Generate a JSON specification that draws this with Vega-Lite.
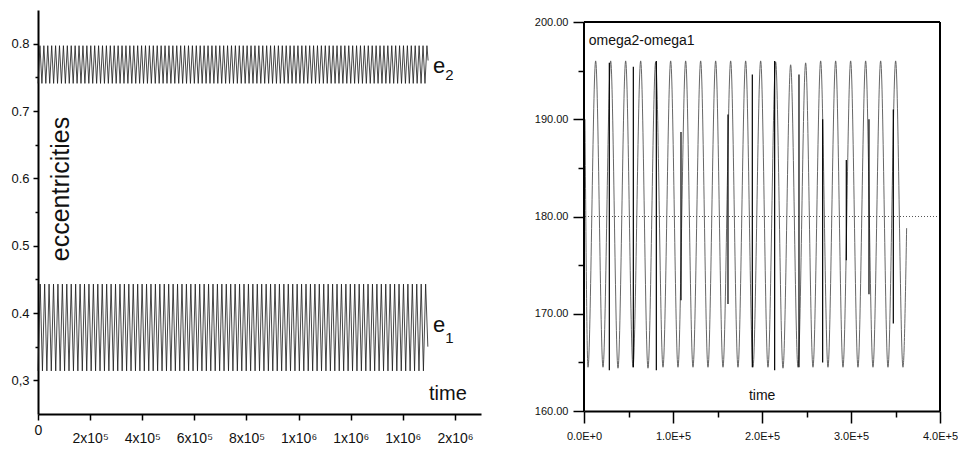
{
  "$schema": "https://vega.github.io/schema/vega-lite/v6.json",
  "padding": {"left": 10, "top": 10, "right": 0, "bottom": 0},
  "background": "white",
  "spacing": 53,
  "config": {
    "view": {"stroke": null},
    "font": "Liberation Sans",
    "axis": {"grid": false, "domainColor": "#000", "domainWidth": 2, "tickColor": "#000", "tickWidth": 1.5, "labelColor": "#111", "labelOverlap": false, "labelBound": false, "labelFlush": false}
  },
  "datasets": {
    "e2": [
      {"t":0,"v":0.741},{"t":7500,"v":0.797},{"t":15000,"v":0.741},{"t":22500,"v":0.797},{"t":30000,"v":0.741},{"t":37500,"v":0.797},{"t":45000,"v":0.741},{"t":52500,"v":0.797},{"t":60000,"v":0.741},{"t":67500,"v":0.797},
      {"t":75000,"v":0.741},{"t":82500,"v":0.797},{"t":90000,"v":0.741},{"t":97500,"v":0.797},{"t":105000,"v":0.741},{"t":112500,"v":0.797},{"t":120000,"v":0.741},{"t":127500,"v":0.797},{"t":135000,"v":0.741},{"t":142500,"v":0.797},
      {"t":150000,"v":0.741},{"t":157500,"v":0.797},{"t":165000,"v":0.741},{"t":172500,"v":0.797},{"t":180000,"v":0.741},{"t":187500,"v":0.797},{"t":195000,"v":0.741},{"t":202500,"v":0.797},{"t":210000,"v":0.741},{"t":217500,"v":0.797},
      {"t":225000,"v":0.741},{"t":232500,"v":0.797},{"t":240000,"v":0.741},{"t":247500,"v":0.797},{"t":255000,"v":0.741},{"t":262500,"v":0.797},{"t":270000,"v":0.741},{"t":277500,"v":0.797},{"t":285000,"v":0.741},{"t":292500,"v":0.797},
      {"t":300000,"v":0.741},{"t":307500,"v":0.797},{"t":315000,"v":0.741},{"t":322500,"v":0.797},{"t":330000,"v":0.741},{"t":337500,"v":0.797},{"t":345000,"v":0.741},{"t":352500,"v":0.797},{"t":360000,"v":0.741},{"t":367500,"v":0.797},
      {"t":375000,"v":0.741},{"t":382500,"v":0.797},{"t":390000,"v":0.741},{"t":397500,"v":0.797},{"t":405000,"v":0.741},{"t":412500,"v":0.797},{"t":420000,"v":0.741},{"t":427500,"v":0.797},{"t":435000,"v":0.741},{"t":442500,"v":0.797},
      {"t":450000,"v":0.741},{"t":457500,"v":0.797},{"t":465000,"v":0.741},{"t":472500,"v":0.797},{"t":480000,"v":0.741},{"t":487500,"v":0.797},{"t":495000,"v":0.741},{"t":502500,"v":0.797},{"t":510000,"v":0.741},{"t":517500,"v":0.797},
      {"t":525000,"v":0.741},{"t":532500,"v":0.797},{"t":540000,"v":0.741},{"t":547500,"v":0.797},{"t":555000,"v":0.741},{"t":562500,"v":0.797},{"t":570000,"v":0.741},{"t":577500,"v":0.797},{"t":585000,"v":0.741},{"t":592500,"v":0.797},
      {"t":600000,"v":0.741},{"t":607500,"v":0.797},{"t":615000,"v":0.741},{"t":622500,"v":0.797},{"t":630000,"v":0.741},{"t":637500,"v":0.797},{"t":645000,"v":0.741},{"t":652500,"v":0.797},{"t":660000,"v":0.741},{"t":667500,"v":0.797},
      {"t":675000,"v":0.741},{"t":682500,"v":0.797},{"t":690000,"v":0.741},{"t":697500,"v":0.797},{"t":705000,"v":0.741},{"t":712500,"v":0.797},{"t":720000,"v":0.741},{"t":727500,"v":0.797},{"t":735000,"v":0.741},{"t":742500,"v":0.797},
      {"t":750000,"v":0.741},{"t":757500,"v":0.797},{"t":765000,"v":0.741},{"t":772500,"v":0.797},{"t":780000,"v":0.741},{"t":787500,"v":0.797},{"t":795000,"v":0.741},{"t":802500,"v":0.797},{"t":810000,"v":0.741},{"t":817500,"v":0.797},
      {"t":825000,"v":0.741},{"t":832500,"v":0.797},{"t":840000,"v":0.741},{"t":847500,"v":0.797},{"t":855000,"v":0.741},{"t":862500,"v":0.797},{"t":870000,"v":0.741},{"t":877500,"v":0.797},{"t":885000,"v":0.741},{"t":892500,"v":0.797},
      {"t":900000,"v":0.741},{"t":907500,"v":0.797},{"t":915000,"v":0.741},{"t":922500,"v":0.797},{"t":930000,"v":0.741},{"t":937500,"v":0.797},{"t":945000,"v":0.741},{"t":952500,"v":0.797},{"t":960000,"v":0.741},{"t":967500,"v":0.797},
      {"t":975000,"v":0.741},{"t":982500,"v":0.797},{"t":990000,"v":0.741},{"t":997500,"v":0.797},{"t":1005000,"v":0.741},{"t":1012500,"v":0.797},{"t":1020000,"v":0.741},{"t":1027500,"v":0.797},{"t":1035000,"v":0.741},{"t":1042500,"v":0.797},
      {"t":1050000,"v":0.741},{"t":1057500,"v":0.797},{"t":1065000,"v":0.741},{"t":1072500,"v":0.797},{"t":1080000,"v":0.741},{"t":1087500,"v":0.797},{"t":1095000,"v":0.741},{"t":1102500,"v":0.797},{"t":1110000,"v":0.741},{"t":1117500,"v":0.797},
      {"t":1125000,"v":0.741},{"t":1132500,"v":0.797},{"t":1140000,"v":0.741},{"t":1147500,"v":0.797},{"t":1155000,"v":0.741},{"t":1162500,"v":0.797},{"t":1170000,"v":0.741},{"t":1177500,"v":0.797},{"t":1185000,"v":0.741},{"t":1192500,"v":0.797},
      {"t":1200000,"v":0.741},{"t":1207500,"v":0.797},{"t":1215000,"v":0.741},{"t":1222500,"v":0.797},{"t":1230000,"v":0.741},{"t":1237500,"v":0.797},{"t":1245000,"v":0.741},{"t":1252500,"v":0.797},{"t":1260000,"v":0.741},{"t":1267500,"v":0.797},
      {"t":1275000,"v":0.741},{"t":1282500,"v":0.797},{"t":1290000,"v":0.741},{"t":1297500,"v":0.797},{"t":1305000,"v":0.741},{"t":1312500,"v":0.797},{"t":1320000,"v":0.741},{"t":1327500,"v":0.797},{"t":1335000,"v":0.741},{"t":1342500,"v":0.797},
      {"t":1350000,"v":0.741},{"t":1357500,"v":0.797},{"t":1365000,"v":0.741},{"t":1372500,"v":0.797},{"t":1380000,"v":0.741},{"t":1387500,"v":0.797},{"t":1395000,"v":0.741},{"t":1402500,"v":0.797},{"t":1410000,"v":0.741},{"t":1417500,"v":0.797},
      {"t":1425000,"v":0.741},{"t":1432500,"v":0.797},{"t":1440000,"v":0.741},{"t":1447500,"v":0.797},{"t":1455000,"v":0.741},{"t":1462500,"v":0.797},{"t":1470000,"v":0.741},{"t":1477500,"v":0.797},{"t":1485000,"v":0.741},{"t":1492500,"v":0.797},
      {"t":1497000,"v":0.775}
    ],
    "e1": [
      {"t":0,"v":0.314},{"t":8500,"v":0.443},{"t":17000,"v":0.314},{"t":25500,"v":0.443},{"t":34000,"v":0.314},{"t":42500,"v":0.443},{"t":51000,"v":0.314},{"t":59500,"v":0.443},{"t":68000,"v":0.314},{"t":76500,"v":0.443},
      {"t":85000,"v":0.314},{"t":93500,"v":0.443},{"t":102000,"v":0.314},{"t":110500,"v":0.443},{"t":119000,"v":0.314},{"t":127500,"v":0.443},{"t":136000,"v":0.314},{"t":144500,"v":0.443},{"t":153000,"v":0.314},{"t":161500,"v":0.443},
      {"t":170000,"v":0.314},{"t":178500,"v":0.443},{"t":187000,"v":0.314},{"t":195500,"v":0.443},{"t":204000,"v":0.314},{"t":212500,"v":0.443},{"t":221000,"v":0.314},{"t":229500,"v":0.443},{"t":238000,"v":0.314},{"t":246500,"v":0.443},
      {"t":255000,"v":0.314},{"t":263500,"v":0.443},{"t":272000,"v":0.314},{"t":280500,"v":0.443},{"t":289000,"v":0.314},{"t":297500,"v":0.443},{"t":306000,"v":0.314},{"t":314500,"v":0.443},{"t":323000,"v":0.314},{"t":331500,"v":0.443},
      {"t":340000,"v":0.314},{"t":348500,"v":0.443},{"t":357000,"v":0.314},{"t":365500,"v":0.443},{"t":374000,"v":0.314},{"t":382500,"v":0.443},{"t":391000,"v":0.314},{"t":399500,"v":0.443},{"t":408000,"v":0.314},{"t":416500,"v":0.443},
      {"t":425000,"v":0.314},{"t":433500,"v":0.443},{"t":442000,"v":0.314},{"t":450500,"v":0.443},{"t":459000,"v":0.314},{"t":467500,"v":0.443},{"t":476000,"v":0.314},{"t":484500,"v":0.443},{"t":493000,"v":0.314},{"t":501500,"v":0.443},
      {"t":510000,"v":0.314},{"t":518500,"v":0.443},{"t":527000,"v":0.314},{"t":535500,"v":0.443},{"t":544000,"v":0.314},{"t":552500,"v":0.443},{"t":561000,"v":0.314},{"t":569500,"v":0.443},{"t":578000,"v":0.314},{"t":586500,"v":0.443},
      {"t":595000,"v":0.314},{"t":603500,"v":0.443},{"t":612000,"v":0.314},{"t":620500,"v":0.443},{"t":629000,"v":0.314},{"t":637500,"v":0.443},{"t":646000,"v":0.314},{"t":654500,"v":0.443},{"t":663000,"v":0.314},{"t":671500,"v":0.443},
      {"t":680000,"v":0.314},{"t":688500,"v":0.443},{"t":697000,"v":0.314},{"t":705500,"v":0.443},{"t":714000,"v":0.314},{"t":722500,"v":0.443},{"t":731000,"v":0.314},{"t":739500,"v":0.443},{"t":748000,"v":0.314},{"t":756500,"v":0.443},
      {"t":765000,"v":0.314},{"t":773500,"v":0.443},{"t":782000,"v":0.314},{"t":790500,"v":0.443},{"t":799000,"v":0.314},{"t":807500,"v":0.443},{"t":816000,"v":0.314},{"t":824500,"v":0.443},{"t":833000,"v":0.314},{"t":841500,"v":0.443},
      {"t":850000,"v":0.314},{"t":858500,"v":0.443},{"t":867000,"v":0.314},{"t":875500,"v":0.443},{"t":884000,"v":0.314},{"t":892500,"v":0.443},{"t":901000,"v":0.314},{"t":909500,"v":0.443},{"t":918000,"v":0.314},{"t":926500,"v":0.443},
      {"t":935000,"v":0.314},{"t":943500,"v":0.443},{"t":952000,"v":0.314},{"t":960500,"v":0.443},{"t":969000,"v":0.314},{"t":977500,"v":0.443},{"t":986000,"v":0.314},{"t":994500,"v":0.443},{"t":1003000,"v":0.314},{"t":1011500,"v":0.443},
      {"t":1020000,"v":0.314},{"t":1028500,"v":0.443},{"t":1037000,"v":0.314},{"t":1045500,"v":0.443},{"t":1054000,"v":0.314},{"t":1062500,"v":0.443},{"t":1071000,"v":0.314},{"t":1079500,"v":0.443},{"t":1088000,"v":0.314},{"t":1096500,"v":0.443},
      {"t":1105000,"v":0.314},{"t":1113500,"v":0.443},{"t":1122000,"v":0.314},{"t":1130500,"v":0.443},{"t":1139000,"v":0.314},{"t":1147500,"v":0.443},{"t":1156000,"v":0.314},{"t":1164500,"v":0.443},{"t":1173000,"v":0.314},{"t":1181500,"v":0.443},
      {"t":1190000,"v":0.314},{"t":1198500,"v":0.443},{"t":1207000,"v":0.314},{"t":1215500,"v":0.443},{"t":1224000,"v":0.314},{"t":1232500,"v":0.443},{"t":1241000,"v":0.314},{"t":1249500,"v":0.443},{"t":1258000,"v":0.314},{"t":1266500,"v":0.443},
      {"t":1275000,"v":0.314},{"t":1283500,"v":0.443},{"t":1292000,"v":0.314},{"t":1300500,"v":0.443},{"t":1309000,"v":0.314},{"t":1317500,"v":0.443},{"t":1326000,"v":0.314},{"t":1334500,"v":0.443},{"t":1343000,"v":0.314},{"t":1351500,"v":0.443},
      {"t":1360000,"v":0.314},{"t":1368500,"v":0.443},{"t":1377000,"v":0.314},{"t":1385500,"v":0.443},{"t":1394000,"v":0.314},{"t":1402500,"v":0.443},{"t":1411000,"v":0.314},{"t":1419500,"v":0.443},{"t":1428000,"v":0.314},{"t":1436500,"v":0.443},
      {"t":1445000,"v":0.314},{"t":1453500,"v":0.443},{"t":1462000,"v":0.314},{"t":1470500,"v":0.443},{"t":1479000,"v":0.314},{"t":1487500,"v":0.443},{"t":1496000,"v":0.35}
    ],
    "om": [
      {"t":1100,"v":190},{"t":4500,"v":164.5},{"t":13100,"v":196},{"t":21350,"v":164.5},{"t":29960,"v":196},{"t":38200,"v":164.4},{"t":46810,"v":196},{"t":55050,"v":164.5},
      {"t":63670,"v":196},{"t":71900,"v":164.4},{"t":80520,"v":195.9},{"t":88760,"v":164.5},{"t":97370,"v":196},{"t":105610,"v":164.5},{"t":114220,"v":196},{"t":122460,"v":164.5},
      {"t":131080,"v":196},{"t":139310,"v":164.5},{"t":147930,"v":196},{"t":156170,"v":164.5},{"t":164780,"v":196},{"t":173020,"v":164.5},{"t":181630,"v":196},{"t":189870,"v":164.5},
      {"t":198490,"v":196},{"t":206720,"v":164.5},{"t":215340,"v":195.9},{"t":223580,"v":164.4},{"t":232190,"v":195.6},{"t":240430,"v":164.5},{"t":249040,"v":195.8},{"t":257280,"v":164.5},
      {"t":265900,"v":196},{"t":274130,"v":164.5},{"t":282750,"v":196},{"t":290990,"v":164.5},{"t":299600,"v":196},{"t":307840,"v":164.5},{"t":316450,"v":196},{"t":324690,"v":164.5},
      {"t":333310,"v":196},{"t":341540,"v":164.5},{"t":350160,"v":196},{"t":358400,"v":164.5},{"t":362500,"v":178.8}
    ],
    "spikes": [
      {"t":28460,"top":195.8,"bot":164.2},{"t":55430,"top":195.4,"bot":164.5},{"t":81270,"top":196,"bot":164.2},{"t":108980,"top":188.7,"bot":171.4},
      {"t":161780,"top":190.5,"bot":171},{"t":189120,"top":194.6,"bot":164.5},{"t":214210,"top":196,"bot":164.2},{"t":241550,"top":194.6,"bot":164.5},
      {"t":268150,"top":190,"bot":165},{"t":294730,"top":185.8,"bot":175.5},{"t":320200,"top":190,"bot":172},{"t":347540,"top":191,"bot":169}
    ]
  },
  "hconcat": [
    {
      "width": 443,
      "height": 404,
      "layer": [
        {
          "data": {"name": "e2"},
          "mark": {"type": "line", "color": "#1a1a1a", "strokeWidth": 0.8},
          "encoding": {
            "x": {"field": "t", "type": "quantitative", "scale": {"domain": [0, 1700000], "nice": false, "zero": false},
              "axis": {"title": null, "values": [0,100000,200000,300000,400000,500000,600000,700000,800000,900000,1000000,1100000,1200000,1300000,1400000,1500000,1600000],
                "labelExpr": "datum.value % 200000 !== 0 ? '' : datum.value === 0 ? '0' : datum.value < 1000000 ? (datum.value/100000) + 'x10⁵' : datum.value < 1500000 ? '1x10⁶' : '2x10⁶'",
                "tickSize": {"condition": {"test": "datum.value % 200000 === 0", "value": 6}, "value": 4},
                "labelPadding": {"condition": {"test": "datum.value === 0", "value": 3}, "value": 11},
                "labelFontSize": 14}},
            "y": {"field": "v", "type": "quantitative", "scale": {"domain": [0.25, 0.85], "nice": false, "zero": false},
              "axis": {"title": null, "values": [0.3,0.35,0.4,0.45,0.5,0.55,0.6,0.65,0.7,0.75,0.8],
                "labelExpr": "round(datum.value*100) % 10 !== 0 ? '' : round(datum.value*10) === 3 ? '0,3' : format(datum.value, '.1f')",
                "tickSize": {"condition": {"test": "round(datum.value*100) % 10 === 0", "value": 5}, "value": 3},
                "labelPadding": 4, "labelFontSize": 13}}
          }
        },
        {
          "data": {"name": "e1"},
          "mark": {"type": "line", "color": "#1a1a1a", "strokeWidth": 0.8},
          "encoding": {
            "x": {"field": "t", "type": "quantitative"},
            "y": {"field": "v", "type": "quantitative"}
          }
        },
        {
          "data": {"values": [{"t": 1515800, "v": 0.7564, "s": "e"}, {"t": 1515800, "v": 0.3718, "s": "e"}]},
          "mark": {"type": "text", "align": "left", "baseline": "alphabetic", "fontSize": 22, "color": "#111"},
          "encoding": {"x": {"field": "t", "type": "quantitative"}, "y": {"field": "v", "type": "quantitative"}, "text": {"field": "s"}}
        },
        {
          "data": {"values": [{"t": 1563000, "v": 0.746, "s": "2"}, {"t": 1563000, "v": 0.3555, "s": "1"}]},
          "mark": {"type": "text", "align": "left", "baseline": "alphabetic", "fontSize": 15, "color": "#111"},
          "encoding": {"x": {"field": "t", "type": "quantitative"}, "y": {"field": "v", "type": "quantitative"}, "text": {"field": "s"}}
        },
        {
          "data": {"values": [{"t": 1500460, "v": 0.2708, "s": "time"}]},
          "mark": {"type": "text", "align": "left", "baseline": "alphabetic", "fontSize": 20, "color": "#111"},
          "encoding": {"x": {"field": "t", "type": "quantitative"}, "y": {"field": "v", "type": "quantitative"}, "text": {"field": "s"}}
        },
        {
          "data": {"values": [{"t": 118960, "v": 0.5842, "s": "eccentricities"}]},
          "mark": {"type": "text", "align": "center", "baseline": "alphabetic", "angle": 270, "fontSize": 25, "color": "#111"},
          "encoding": {"x": {"field": "t", "type": "quantitative"}, "y": {"field": "v", "type": "quantitative"}, "text": {"field": "s"}}
        }
      ]
    },
    {
      "width": 356,
      "height": 401,
      "layer": [
        {
          "data": {"values": [{"y": 180}]},
          "mark": {"type": "rule", "color": "#555", "strokeDash": [1, 2], "strokeWidth": 1},
          "encoding": {"y": {"field": "y", "type": "quantitative"}}
        },
        {
          "data": {"name": "om"},
          "mark": {"type": "line", "color": "#555", "strokeWidth": 0.9, "interpolate": "monotone"},
          "encoding": {
            "x": {"field": "t", "type": "quantitative", "scale": {"domain": [0, 400000], "nice": false, "zero": false},
              "axis": {"title": null, "values": [0,50000,100000,150000,200000,250000,300000,350000,400000],
                "labelExpr": "datum.value % 100000 !== 0 ? '' : datum.value === 0 ? '0.0E+0' : format(datum.value/100000, '.1f') + 'E+5'",
                "tickSize": {"condition": {"test": "datum.value % 100000 === 0", "value": 12}, "value": 6},
                "labelPadding": 7, "labelFontSize": 11}},
            "y": {"field": "v", "type": "quantitative", "scale": {"domain": [160, 201.234], "nice": false, "zero": false},
              "axis": {"title": null, "domain": false, "values": [160,165,170,175,180,185,190,195,200],
                "labelExpr": "datum.value % 10 !== 0 ? '' : format(datum.value, '.2f')",
                "tickSize": {"condition": {"test": "datum.value % 10 === 0", "value": 11}, "value": 6},
                "labelPadding": 5, "labelFontSize": 11}}
          }
        },
        {
          "data": {"name": "spikes"},
          "mark": {"type": "rule", "color": "#000", "strokeWidth": 1.2},
          "encoding": {
            "x": {"field": "t", "type": "quantitative"},
            "y": {"field": "top", "type": "quantitative"},
            "y2": {"field": "bot"}
          }
        },
        {
          "data": {"values": [{"x": 0, "y": 160, "y2": 200}, {"x": 400000, "y": 160, "y2": 200}]},
          "mark": {"type": "rule", "color": "#000", "strokeWidth": 2},
          "encoding": {
            "x": {"field": "x", "type": "quantitative"},
            "y": {"field": "y", "type": "quantitative"},
            "y2": {"field": "y2"}
          }
        },
        {
          "data": {"values": [{"x": 0, "x2": 400000, "y": 200}]},
          "mark": {"type": "rule", "color": "#000", "strokeWidth": 2},
          "encoding": {
            "x": {"field": "x", "type": "quantitative"},
            "x2": {"field": "x2"},
            "y": {"field": "y", "type": "quantitative"}
          }
        },
        {
          "data": {"values": [{"t": 5285, "v": 197.66, "s": "omega2-omega1"}]},
          "mark": {"type": "text", "align": "left", "baseline": "alphabetic", "fontSize": 14, "color": "#111"},
          "encoding": {"x": {"field": "t", "type": "quantitative"}, "y": {"field": "v", "type": "quantitative"}, "text": {"field": "s"}}
        },
        {
          "data": {"values": [{"t": 200200, "v": 161.13, "s": "time"}]},
          "mark": {"type": "text", "align": "center", "baseline": "alphabetic", "fontSize": 14, "color": "#111"},
          "encoding": {"x": {"field": "t", "type": "quantitative"}, "y": {"field": "v", "type": "quantitative"}, "text": {"field": "s"}}
        }
      ]
    }
  ]
}
